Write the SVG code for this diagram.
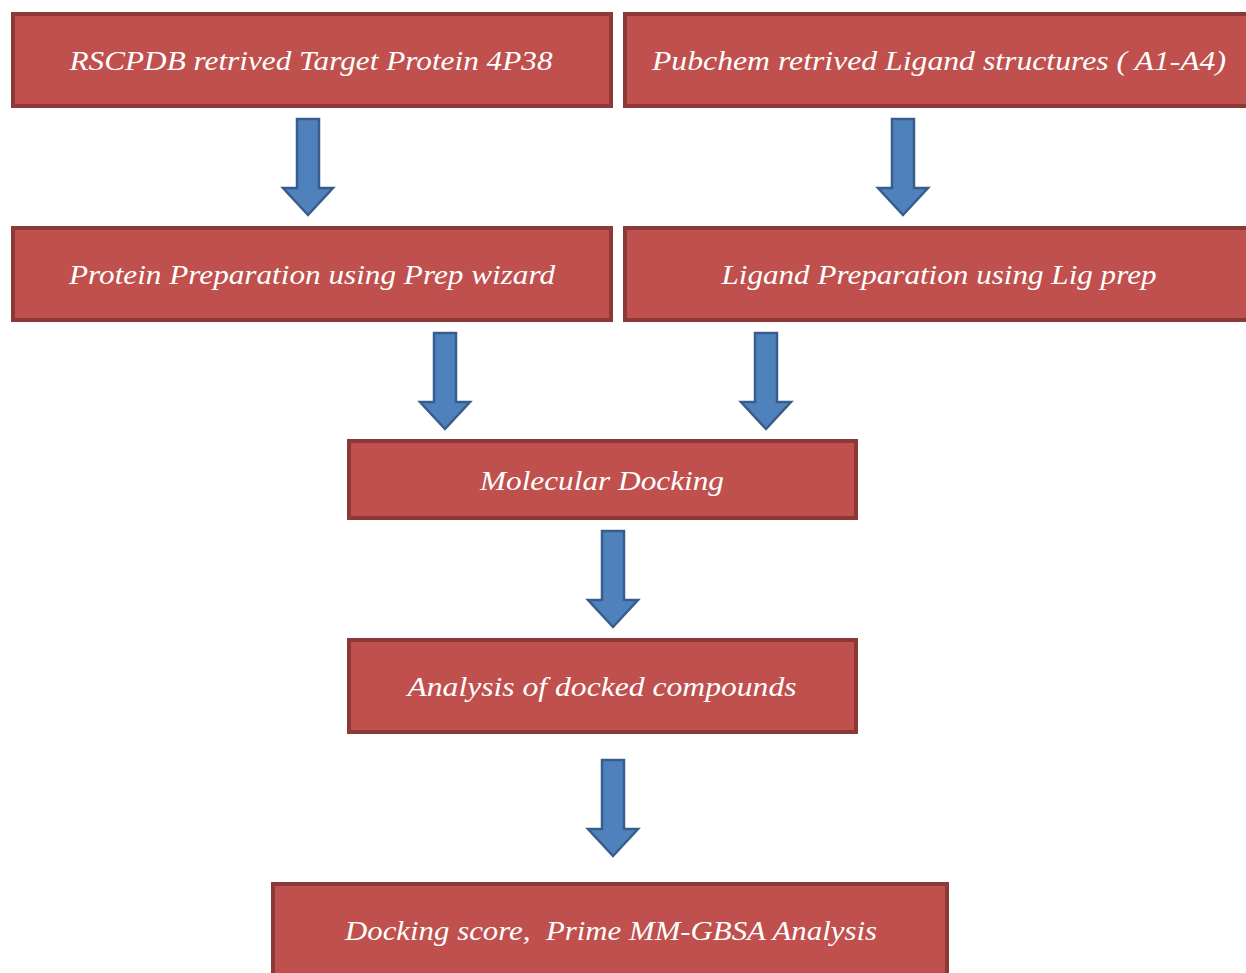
<svg xmlns="http://www.w3.org/2000/svg" xmlns:xlink="http://www.w3.org/1999/xlink" width="1246" height="973" viewBox="0 0 1246 973">
<style>
.box{fill:#C0504D;stroke:#8C3836;stroke-width:4}
.lbl{font-family:"Liberation Serif","Times New Roman",serif;font-style:italic;font-size:28px;fill:#FFFFFF;text-anchor:middle}
.arr{fill:#4F81BD;stroke:#385D8A;stroke-width:2.5}
</style>
<defs>
<path id="arrow" d="M-11,0 H11 V69 H25 L0,96 L-25,69 H-11 Z"/>
</defs>
<rect width="1246" height="973" fill="#FFFFFF"/>
<g id="connectors">
<use xlink:href="#arrow" class="arr" transform="translate(308,119)"/>
<use xlink:href="#arrow" class="arr" transform="translate(903,119)"/>
<use xlink:href="#arrow" class="arr" transform="translate(445,333)"/>
<use xlink:href="#arrow" class="arr" transform="translate(766,333)"/>
<use xlink:href="#arrow" class="arr" transform="translate(613,531)"/>
<use xlink:href="#arrow" class="arr" transform="translate(613,760)"/>
</g>
<g id="n1"><rect class="box" x="13" y="14" width="598" height="92"/><text class="lbl" x="311" y="70" textLength="483" lengthAdjust="spacingAndGlyphs">RSCPDB retrived Target Protein 4P38</text></g>
<g id="n2"><rect class="box" x="625" y="14" width="625" height="92"/><text class="lbl" x="939" y="70" textLength="574" lengthAdjust="spacingAndGlyphs">Pubchem retrived Ligand structures ( A1-A4)</text></g>
<g id="n3"><rect class="box" x="13" y="228" width="598" height="92"/><text class="lbl" x="312" y="284" textLength="486" lengthAdjust="spacingAndGlyphs">Protein Preparation using Prep wizard</text></g>
<g id="n4"><rect class="box" x="625" y="228" width="625" height="92"/><text class="lbl" x="939" y="284" textLength="435" lengthAdjust="spacingAndGlyphs">Ligand Preparation using Lig prep</text></g>
<g id="n5"><rect class="box" x="349" y="441" width="507" height="77"/><text class="lbl" x="602" y="490" textLength="244" lengthAdjust="spacingAndGlyphs">Molecular Docking</text></g>
<g id="n6"><rect class="box" x="349" y="640" width="507" height="92"/><text class="lbl" x="602" y="696" textLength="389" lengthAdjust="spacingAndGlyphs">Analysis of docked compounds</text></g>
<g id="n7"><rect class="box" x="273" y="884" width="674" height="100"/><text class="lbl" x="611" y="940" textLength="532" lengthAdjust="spacingAndGlyphs" xml:space="preserve">Docking score,  Prime MM-GBSA Analysis</text></g>
</svg>
